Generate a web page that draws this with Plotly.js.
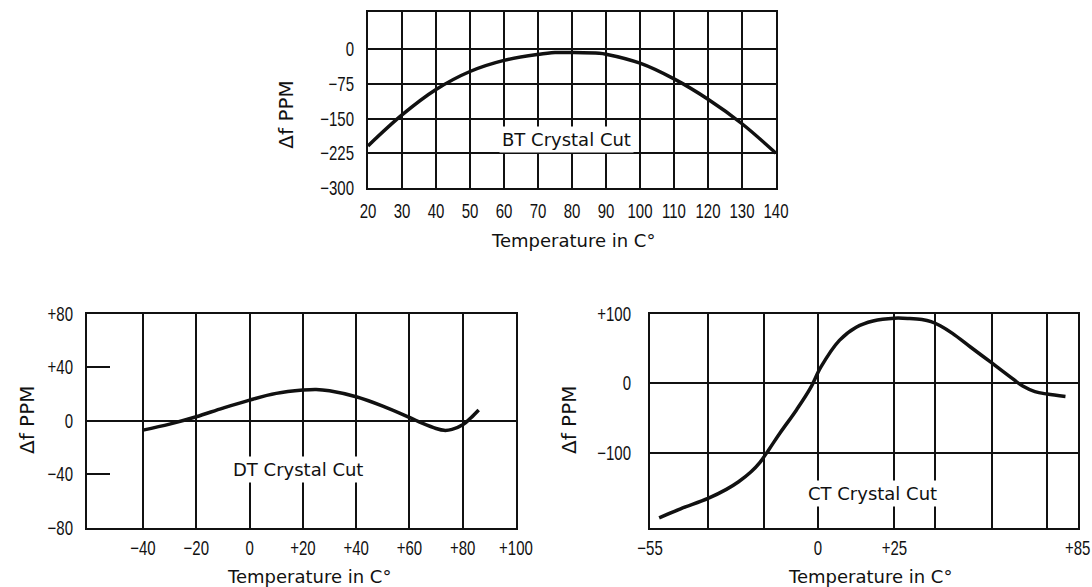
<!DOCTYPE html>
<html>
<head>
<meta charset="utf-8">
<script src="https://cdn.plot.ly/plotly-3.0.1.min.js"></script>
<style>
  html, body { margin: 0; padding: 0; background: #fff; }
  #chart { width: 1092px; height: 587px; }
</style>
</head>
<body>
<div id="chart"></div>
<script>
// Frequency deviation vs. temperature for three quartz crystal cuts

// BT cut
const btTemp = [20, 30, 40, 50, 60, 70, 75, 80, 88, 90, 100, 110, 120, 130, 140];
const btPpm  = [-209, -142, -87, -48, -24, -11, -7, -7, -8.5, -10.5, -30, -64, -108, -161, -225];

// DT cut
const dtTemp = [-40, -30, -20, -10, 0, 10, 20, 25, 30, 40, 50, 60, 65, 70, 73, 76, 80, 83, 86];
const dtPpm  = [-7, -2.5, 3, 9.5, 15.5, 20.5, 23, 23.5, 22.5, 18, 11, 2.5, -2, -5.8, -7.2, -6.5, -3, 2, 8];

// CT cut
const ctTemp = [-52, -45, -36, -30, -26, -22, -19, -16, -12.5, -7, -2.5, 1, 7, 12.5, 18, 25, 30, 34, 37, 40, 44, 50, 57, 63, 67, 71, 75, 81];
const ctPpm  = [-194, -181, -166, -153, -142, -128, -114, -95, -72, -38, -7, 24, 62, 81, 90, 94, 93.5, 92, 89, 83, 72, 52, 29, 9, -4, -12, -15.5, -19];

// tick positions and labels
const btXTicks  = [20, 30, 40, 50, 60, 70, 80, 90, 100, 110, 120, 130, 140];
const btXLabels = ['20', '30', '40', '50', '60', '70', '80', '90', '100', '110', '120', '130', '140'];
const btYTicks  = [0, -75, -150, -225, -300];
const btYLabels = ['0', '−75', '−150', '−225', '−300'];

const dtXTicks  = [-40, -20, 0, 20, 40, 60, 80, 100];
const dtXLabels = ['−40', '−20', '0', '+20', '+40', '+60', '+80', '+100'];
const dtYTicks  = [80, 40, 0, -40, -80];
const dtYLabels = ['+80', '+40', '0', '−40', '−80'];

const ctXTicks  = [-55, -36, -17.6, 0, 25, 38.4, 57.1, 75, 85];
const ctXLabels = ['−55', '', '', '0', '+25', '', '', '', '+85'];
const ctYTicks  = [100, 0, -100];
const ctYLabels = ['+100', '0', '−100'];

const W = 1092, H = 587;
const px = v => v / W;
const py = v => 1 - v / H;

const tickFont  = { family: '"Liberation Sans", Arial, sans-serif', size: 20, color: '#111' };
const titleFont = { family: '"DejaVu Sans", sans-serif', size: 18, color: '#111' };
const yTitleFont = { family: '"DejaVu Sans", sans-serif', size: 20, color: '#111' };
const INK = '#111';
const NARROW = 0.75;   // horizontal squeeze of tick numerals

function curve(x, y, xa, ya) {
  return {
    x: x, y: y, xaxis: xa, yaxis: ya,
    type: 'scatter', mode: 'lines',
    line: { color: INK, width: 3.5, shape: 'spline', smoothing: 1 },
    hoverinfo: 'skip', showlegend: false
  };
}

function frameAxis(extra) {
  return Object.assign({
    showline: true, mirror: true, linecolor: INK, linewidth: 2,
    gridcolor: INK, gridwidth: 2, zeroline: false,
    tickmode: 'array', ticks: '', tickfont: tickFont, tickangle: 0,
    ticklabeloverflow: 'allow', fixedrange: true
  }, extra);
}

function label(x, y, text, angle) {
  return { xref: 'paper', yref: 'paper', x: px(x), y: py(y), text: text,
           textangle: angle || 0, xanchor: 'center', yanchor: 'middle',
           showarrow: false, font: angle ? yTitleFont : titleFont };
}

function cutLabel(xa, ya, x, y, text) {
  return { xref: xa, yref: ya, x: x, y: y, text: text, xanchor: 'center', yanchor: 'middle',
           showarrow: false, font: titleFont, bgcolor: '#fff', borderpad: 2 };
}

const traces = [
  curve(btTemp, btPpm, 'x', 'y'),
  curve(dtTemp, dtPpm, 'x2', 'y2'),
  curve(ctTemp, ctPpm, 'x3', 'y3')
];

const layout = {
  width: W, height: H,
  margin: { l: 0, r: 0, t: 0, b: 0 },
  paper_bgcolor: '#fff', plot_bgcolor: '#fff',
  showlegend: false,

  xaxis:  frameAxis({ domain: [px(368), px(776)], range: [20, 140], anchor: 'y',
                      tickvals: btXTicks, ticktext: btXLabels, showgrid: true, ticklabelstandoff: 4 }),
  yaxis:  frameAxis({ domain: [py(188), py(11.7)], range: [-300, 81.4], anchor: 'x',
                      tickvals: btYTicks, ticktext: btYLabels, showgrid: true, ticklabelstandoff: 8 }),

  xaxis2: frameAxis({ domain: [px(87), px(516)], range: [-61, 100], anchor: 'y2',
                      tickvals: dtXTicks, ticktext: dtXLabels, showgrid: true, ticklabelstandoff: 2 }),
  yaxis2: frameAxis({ domain: [py(527.5), py(314)], range: [-80, 80], anchor: 'x2',
                      tickvals: dtYTicks, ticktext: dtYLabels, showgrid: false,
                      zeroline: true, zerolinecolor: INK, zerolinewidth: 2,
                      ticks: 'inside', ticklen: 23, tickwidth: 2, tickcolor: INK, ticklabelstandoff: 8 }),

  xaxis3: frameAxis({ domain: [px(650), px(1077.7)], range: [-55, 85], anchor: 'y3',
                      tickvals: ctXTicks, ticktext: ctXLabels, showgrid: true, ticklabelstandoff: 2 }),
  yaxis3: frameAxis({ domain: [py(527.5), py(314)], range: [-208, 100], anchor: 'x3',
                      tickvals: ctYTicks, ticktext: ctYLabels, showgrid: true, ticklabelstandoff: 13 }),

  annotations: [
    // curve labels
    cutLabel('x',  'y',  78.4, -195,  'BT Crystal Cut'),
    cutLabel('x2', 'y2', 18,   -36.5, 'DT Crystal Cut'),
    cutLabel('x3', 'y3', 17.8, -159,  'CT Crystal Cut'),

    // axis titles
    label(573, 240, 'Temperature in C°'),
    label(286, 114.7, 'Δf PPM', -90),
    label(309, 576, 'Temperature in C°'),
    label(27, 420, 'Δf PPM', -90),
    label(870, 576, 'Temperature in C°'),
    label(569, 420, 'Δf PPM', -90)
  ]
};

Plotly.newPlot('chart', traces, layout, { staticPlot: true, displayModeBar: false }).then(function (gd) {
  // squeeze tick numerals horizontally about their anchor point
  gd.querySelectorAll('g.xtick text, g.ytick text, g.x2tick text, g.y2tick text, g.x3tick text, g.y3tick text')
    .forEach(function (t) {
      const ax = parseFloat(t.getAttribute('x')) || 0;
      const base = t.getAttribute('transform') || '';
      t.setAttribute('transform',
        base + ' translate(' + ax + ',0) scale(' + NARROW + ',1) translate(' + (-ax) + ',0)');
    });
});
</script>
</body>
</html>
